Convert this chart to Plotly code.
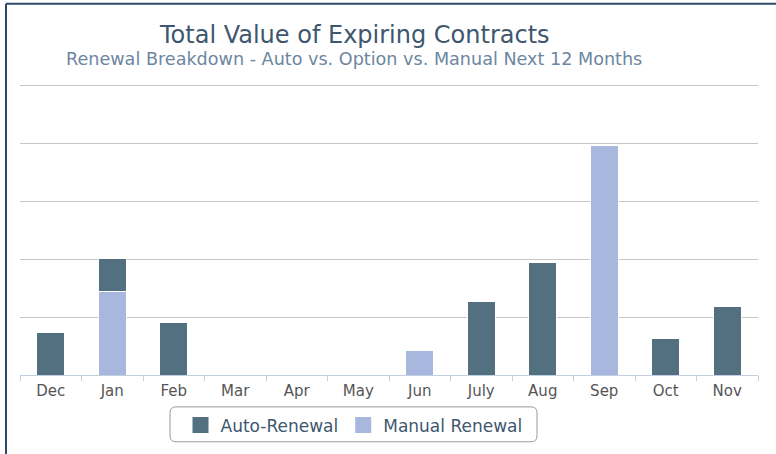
import plotly.graph_objects as go

# ---- data ----
months = ["Dec", "Jan", "Feb", "Mar", "Apr", "May", "Jun", "July", "Aug", "Sep", "Oct", "Nov"]
auto_renewal = [0.74, 0.58, 0.91, None, None, None, None, 1.27, 1.94, None, 0.63, 1.18]
manual_renewal = [None, 1.44, None, None, None, None, 0.43, None, None, 3.97, None, None]
grid_values = [1, 2, 3, 4, 5]

title_text = "Total Value of Expiring Contracts"
subtitle_text = "Renewal Breakdown - Auto vs. Option vs. Manual Next 12 Months"
series_names = ["Auto-Renewal", "Manual Renewal"]

AUTO_COLOR = "#52707f"
MANUAL_COLOR = "#a8b7dd"
FONT = "DejaVu Sans"

W, H = 776, 454
ML, MR, MT, MB = 20, 18, 83, 78
PW = W - ML - MR
PH = H - MT - MB
Y_TOP = 5.05


def px_x(p):
    return (p - ML) / PW


def px_y(p):
    return (H - MB - p) / PH


fig = go.Figure()
# stacked: manual at bottom, auto on top
fig.add_trace(go.Bar(x=months, y=manual_renewal, name=series_names[1], marker_color=MANUAL_COLOR,
                     marker_line_color="white", marker_line_width=1, showlegend=False))
fig.add_trace(go.Bar(x=months, y=auto_renewal, name=series_names[0], marker_color=AUTO_COLOR,
                     marker_line_color="white", marker_line_width=1, showlegend=False))

# legend entries
for nm, col in [(series_names[0], AUTO_COLOR), (series_names[1], MANUAL_COLOR)]:
    fig.add_trace(go.Scatter(x=[None], y=[None], mode="markers", name=nm,
                             marker=dict(symbol="square", size=16, color=col), showlegend=True))

fig.update_layout(
    width=W, height=H,
    margin=dict(l=ML, r=MR, t=MT, b=MB),
    barmode="stack", bargap=0.55,
    plot_bgcolor="white", paper_bgcolor="white",
    font=dict(family=FONT),
    legend=dict(orientation="h", x=px_x(354), xanchor="center", y=px_y(425.5), yanchor="middle",
                font=dict(size=17, color="#3e576f", family=FONT), bgcolor="rgba(0,0,0,0)",
                borderwidth=0, itemsizing="trace", traceorder="normal"),
    xaxis=dict(type="category", showline=True, linecolor="#c0d0e0", linewidth=1,
               ticks="outside", tickson="boundaries", ticklen=5, tickcolor="#c0d0e0",
               ticklabelstandoff=2,
               showgrid=False, tickfont=dict(size=15, color="#555555", family=FONT)),
    yaxis=dict(range=[0, Y_TOP], tickvals=grid_values, showticklabels=False,
               gridcolor="#c6c6c6", gridwidth=1, zeroline=False, showline=False),
)

fig.add_annotation(text=title_text, xref="paper", yref="paper", x=px_x(354), y=px_y(35),
                   xanchor="center", yanchor="middle", showarrow=False,
                   font=dict(size=24, color="#3e576f", family=FONT))
fig.add_annotation(text=subtitle_text, xref="paper", yref="paper", x=px_x(354), y=px_y(59),
                   xanchor="center", yanchor="middle", showarrow=False,
                   font=dict(size=17.6, color="#6d869f", family=FONT))

# rounded legend box
x0, x1 = px_x(170), px_x(537)
y0, y1 = px_y(443), px_y(408)
rx, ry = 6 / PW, 6 / PH
path = (f"M {x0+rx},{y1} L {x1-rx},{y1} Q {x1},{y1} {x1},{y1-ry} L {x1},{y0+ry} "
        f"Q {x1},{y0} {x1-rx},{y0} L {x0+rx},{y0} Q {x0},{y0} {x0},{y0+ry} "
        f"L {x0},{y1-ry} Q {x0},{y1} {x0+rx},{y1} Z")
fig.add_shape(type="path", path=path, xref="paper", yref="paper",
              line=dict(color="#999999", width=1), fillcolor="rgba(0,0,0,0)", layer="below")

# outer frame (left and top edges visible)
fx, fy = px_x(6), px_y(3.5)
fig.add_shape(type="line", x0=fx, x1=fx, y0=px_y(470), y1=fy, xref="paper", yref="paper",
              line=dict(color="#2d4a68", width=2))
fig.add_shape(type="line", x0=fx, x1=px_x(800), y0=fy, y1=fy, xref="paper", yref="paper",
              line=dict(color="#2d4a68", width=2))

fig.write_html("out.html", config={"displayModeBar": False},
               post_script="document.body.style.margin='0';")
